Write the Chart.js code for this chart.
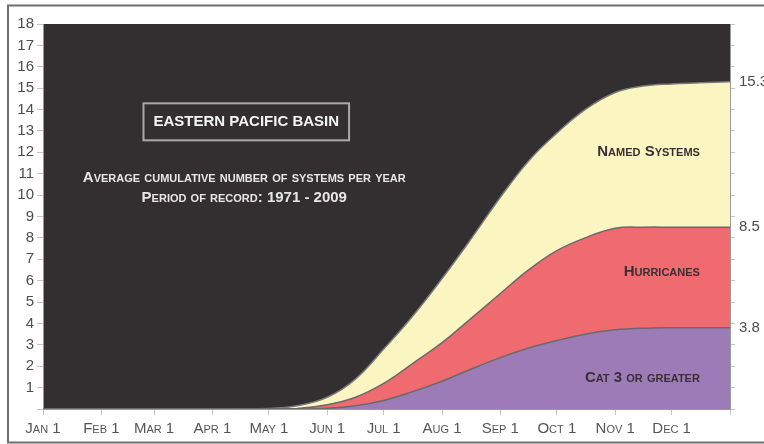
<!DOCTYPE html>
<html>
<head>
<meta charset="utf-8">
<script src="https://cdn.jsdelivr.net/npm/chart.js@4"></script>
<style>
  html, body { margin: 0; padding: 0; background: #fff; }
  #wrap { width: 764px; height: 444px; position: relative; }
</style>
</head>
<body>
<div id="wrap"><canvas id="chart"></canvas></div>
<script>
// day of year (0 = Jan 1) and cumulative average counts
const days          = [0, 31, 59, 90, 120, 135, 151, 166, 181, 196, 212, 227, 243, 258, 273, 288, 304, 319, 334, 349, 365];
const namedSystems  = [0, 0, 0, 0, 0.02, 0.15, 0.55, 1.4, 2.8, 4.3, 6.1, 7.9, 9.9, 11.6, 12.9, 14.0, 14.8, 15.1, 15.2, 15.25, 15.3];
const hurricanes    = [0, 0, 0, 0, 0, 0.02, 0.2, 0.55, 1.2, 2.1, 3.1, 4.2, 5.4, 6.5, 7.4, 8.0, 8.45, 8.5, 8.5, 8.5, 8.5];
const cat3OrGreater = [0, 0, 0, 0, 0, 0, 0.03, 0.15, 0.4, 0.8, 1.3, 1.85, 2.4, 2.85, 3.2, 3.5, 3.7, 3.78, 3.8, 3.8, 3.8];

const monthTicks  = [0, 31, 59, 90, 120, 151, 181, 212, 243, 273, 304, 334, 365];
const monthLabels = ['Jan 1', 'Feb 1', 'Mar 1', 'Apr 1', 'May 1', 'Jun 1', 'Jul 1', 'Aug 1', 'Sep 1', 'Oct 1', 'Nov 1', 'Dec 1', ''];
const endValues   = [3.8, 8.5, 15.3];

const NARROW = "'Liberation Sans Narrow', 'Liberation Sans', sans-serif";

function toPoints(values) {
    return days.map((d, i) => ({ x: d, y: values[i] }));
}

const plotBackground = {
    id: 'plotBackground',
    beforeDraw(chart) {
        const { ctx, chartArea } = chart;
        ctx.save();
        // outer frame
        ctx.strokeStyle = '#6f6f6f';
        ctx.lineWidth = 2;
        ctx.strokeRect(8, 5.5, 800, 437);
        // dark plot area
        ctx.fillStyle = '#332f31';
        ctx.fillRect(chartArea.left, chartArea.top, chartArea.right - chartArea.left, chartArea.bottom - chartArea.top);
        ctx.restore();
    }
};

const labelsPlugin = {
    id: 'labelsPlugin',
    afterDatasetsDraw(chart) {
        const { ctx } = chart;
        const x = chart.scales.x;
        const y = chart.scales.y;
        ctx.save();

        // title box
        const cx = x.getPixelForValue(108);
        const ty = y.getPixelForValue(13.45);
        ctx.font = "bold 15px 'Liberation Sans', sans-serif";
        ctx.textAlign = 'center';
        ctx.textBaseline = 'middle';
        const tw = ctx.measureText('EASTERN PACIFIC BASIN').width;
        ctx.strokeStyle = '#a9a9a9';
        ctx.lineWidth = 2;
        ctx.strokeRect(cx - tw / 2 - 10, ty - 18, tw + 20, 37);
        ctx.fillStyle = '#f4f4f4';
        ctx.fillText('EASTERN PACIFIC BASIN', cx, ty + 1);

        // subtitle
        ctx.font = "small-caps bold 15px " + NARROW;
        ctx.fillStyle = '#e6e6e6';
        ctx.fillText('Average cumulative number of systems per year', cx - 2, y.getPixelForValue(10.8));
        ctx.fillText('Period of record: 1971 - 2009', cx - 2, y.getPixelForValue(9.85));

        // series names
        ctx.textAlign = 'right';
        ctx.fillStyle = '#3a2f35';
        ctx.font = "small-caps bold 15px " + NARROW;
        const rx = x.getPixelForValue(349);
        ctx.fillText('Named Systems', rx, y.getPixelForValue(12.0));
        ctx.fillText('Hurricanes', rx, y.getPixelForValue(6.4));
        ctx.fillText('Cat 3 or greater', rx, y.getPixelForValue(1.45));
        ctx.restore();
    }
};

const ctx = document.getElementById('chart').getContext('2d');
new Chart(ctx, {
    type: 'line',
    data: {
        datasets: [
            {
                label: 'Cat 3 or greater',
                data: toPoints(cat3OrGreater),
                backgroundColor: '#9d7bb6',
                borderColor: '#6a6a6a',
                borderWidth: 1.5,
                fill: 'origin'
            },
            {
                label: 'Hurricanes',
                data: toPoints(hurricanes),
                backgroundColor: '#ef6b70',
                borderColor: '#6a6a6a',
                borderWidth: 1.5,
                fill: 'origin'
            },
            {
                label: 'Named Systems',
                data: toPoints(namedSystems),
                backgroundColor: '#fbf6c1',
                borderColor: '#7a7a7a',
                borderWidth: 1.5,
                fill: 'origin'
            }
        ]
    },
    options: {
        responsive: true,
        maintainAspectRatio: false,
        animation: false,
        layout: { padding: { top: 24, left: 0, right: 0, bottom: 0 } },
        elements: {
            point: { radius: 0 },
            line: { tension: 0.4 }
        },
        plugins: {
            legend: { display: false },
            tooltip: { enabled: false }
        },
        scales: {
            x: {
                type: 'linear',
                min: 0,
                max: 365,
                afterBuildTicks: axis => { axis.ticks = monthTicks.map(v => ({ value: v })); },
                afterFit: axis => { axis.height = 35; },
                border: { color: '#9a9a9a' },
                grid: { drawOnChartArea: false, tickLength: 6, color: '#c4c4c4' },
                ticks: {
                    autoSkip: false,
                    maxRotation: 0,
                    padding: 5,
                    color: '#555',
                    font: { family: NARROW, size: 15, weight: 'small-caps' },
                    callback: (value) => monthLabels[monthTicks.indexOf(value)]
                }
            },
            y: {
                position: 'left',
                min: 0,
                max: 18,
                afterFit: axis => { axis.width = 43; },
                border: { color: '#9a9a9a' },
                grid: { drawOnChartArea: false, tickLength: 6, color: '#c4c4c4' },
                ticks: {
                    stepSize: 1,
                    padding: 3,
                    color: '#4d4d4d',
                    font: { family: NARROW, size: 15 },
                    callback: v => v === 0 ? '' : v
                }
            },
            y2: {
                position: 'right',
                min: 0,
                max: 18,
                afterBuildTicks: axis => {
                    const t = [];
                    for (let i = 0; i <= 18; i++) t.push({ value: i });
                    endValues.forEach(v => t.push({ value: v }));
                    axis.ticks = t.sort((a, b) => a.value - b.value);
                },
                afterFit: axis => { axis.width = 34; },
                border: { color: '#9a9a9a' },
                grid: {
                    drawOnChartArea: false,
                    tickLength: 5,
                    color: c => (c.tick && Number.isInteger(c.tick.value)) ? '#c4c4c4' : 'rgba(0,0,0,0)'
                },
                ticks: {
                    autoSkip: false,
                    padding: 4,
                    color: '#4d4d4d',
                    font: { family: NARROW, size: 15 },
                    callback: v => endValues.includes(v) ? v.toFixed(1) : ''
                }
            }
        }
    },
    plugins: [plotBackground, labelsPlugin]
});
</script>
</body>
</html>
